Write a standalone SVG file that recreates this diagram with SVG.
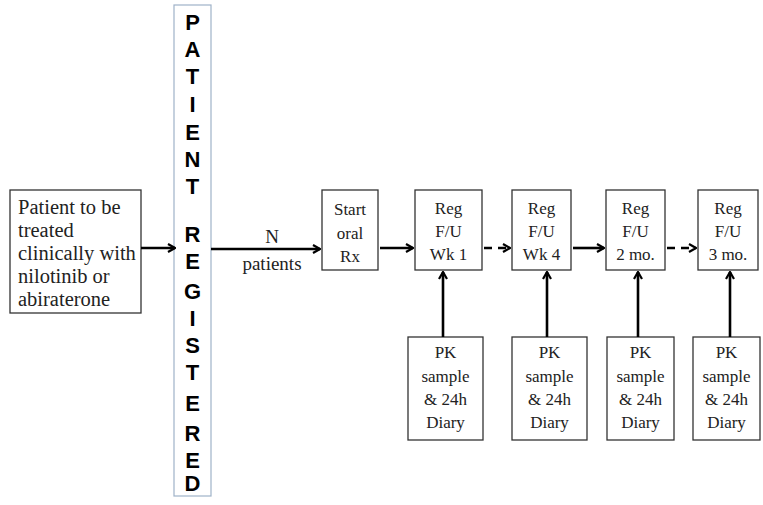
<svg xmlns="http://www.w3.org/2000/svg" width="763" height="505" viewBox="0 0 763 505">
<defs>
<marker id="ah" viewBox="0 0 10 10" refX="9" refY="5" markerWidth="10" markerHeight="10" markerUnits="userSpaceOnUse" orient="auto">
<path d="M2,1 L9,5 L2,9" fill="none" stroke="#000" stroke-width="2.2"/>
</marker>
<style>
.box{fill:#fff;stroke:#333;stroke-width:1.3}
.reg{fill:#fff;stroke:#9fb2c8;stroke-width:1.2}
.t{font-family:"Liberation Serif","Times New Roman",serif;font-size:17px;fill:#222;text-anchor:middle}
.tl{font-family:"Liberation Serif","Times New Roman",serif;font-size:20.5px;fill:#222}
.v{font-family:"Liberation Sans",Arial,sans-serif;font-weight:bold;font-size:22px;fill:#000;text-anchor:middle}
.c{stroke:#000;stroke-width:2.6;fill:none}
.d{stroke-dasharray:8 6}
</style>
</defs>
<rect width="763" height="505" fill="#fff"/>

<g id="n_patient">
<rect class="box" x="10" y="190" width="131" height="123"/>
<text class="tl" x="18" y="214">Patient  to be</text>
<text class="tl" x="18" y="237">treated</text>
<text class="tl" x="18" y="260">clinically with</text>
<text class="tl" x="18" y="283">nilotinib or</text>
<text class="tl" x="18" y="306">abiraterone</text>
</g>

<g id="n_registered">
<rect class="reg" x="174" y="5" width="37" height="491"/>
<text class="v" x="192.5" y="30">P</text>
<text class="v" x="192.5" y="57">A</text>
<text class="v" x="192.5" y="84">T</text>
<text class="v" x="192.5" y="112">I</text>
<text class="v" x="192.5" y="140">E</text>
<text class="v" x="192.5" y="167">N</text>
<text class="v" x="192.5" y="194">T</text>
<text class="v" x="192.5" y="242">R</text>
<text class="v" x="192.5" y="269">E</text>
<text class="v" x="192.5" y="299">G</text>
<text class="v" x="192.5" y="326">I</text>
<text class="v" x="192.5" y="353">S</text>
<text class="v" x="192.5" y="380">T</text>
<text class="v" x="192.5" y="411">E</text>
<text class="v" x="192.5" y="441">R</text>
<text class="v" x="192.5" y="468">E</text>
<text class="v" x="192.5" y="495" dy="-4">D</text>
</g>

<g id="n_start">
<rect class="box" x="322" y="190" width="56" height="80"/>
<text class="t" x="350" y="215">Start</text>
<text class="t" x="350" y="239">oral</text>
<text class="t" x="350" y="262">Rx</text>
</g>

<g id="n_wk1">
<rect class="box" x="415" y="190" width="67" height="80"/>
<text class="t" x="448.5" y="214">Reg</text>
<text class="t" x="448.5" y="237">F/U</text>
<text class="t" x="448.5" y="260">Wk 1</text>
</g>
<g id="n_wk4">
<rect class="box" x="512" y="190" width="59" height="80"/>
<text class="t" x="541.5" y="214">Reg</text>
<text class="t" x="541.5" y="237">F/U</text>
<text class="t" x="541.5" y="260">Wk 4</text>
</g>
<g id="n_2mo">
<rect class="box" x="606" y="190" width="59" height="80"/>
<text class="t" x="635.5" y="214">Reg</text>
<text class="t" x="635.5" y="237">F/U</text>
<text class="t" x="635.5" y="260">2 mo.</text>
</g>
<g id="n_3mo">
<rect class="box" x="698" y="190" width="60" height="80"/>
<text class="t" x="728" y="214">Reg</text>
<text class="t" x="728" y="237">F/U</text>
<text class="t" x="728" y="260">3 mo.</text>
</g>

<g id="n_pk1">
<rect class="box" x="408" y="337" width="75" height="103"/>
<text class="t" x="445.5" y="358">PK</text>
<text class="t" x="445.5" y="382">sample</text>
<text class="t" x="445.5" y="405">&amp; 24h</text>
<text class="t" x="445.5" y="428">Diary</text>
</g>
<g id="n_pk2">
<rect class="box" x="512" y="337" width="75" height="103"/>
<text class="t" x="549.5" y="358">PK</text>
<text class="t" x="549.5" y="382">sample</text>
<text class="t" x="549.5" y="405">&amp; 24h</text>
<text class="t" x="549.5" y="428">Diary</text>
</g>
<g id="n_pk3">
<rect class="box" x="607" y="337" width="67" height="103"/>
<text class="t" x="640.5" y="358">PK</text>
<text class="t" x="640.5" y="382">sample</text>
<text class="t" x="640.5" y="405">&amp; 24h</text>
<text class="t" x="640.5" y="428">Diary</text>
</g>
<g id="n_pk4">
<rect class="box" x="693" y="337" width="67" height="103"/>
<text class="t" x="726.5" y="358">PK</text>
<text class="t" x="726.5" y="382">sample</text>
<text class="t" x="726.5" y="405">&amp; 24h</text>
<text class="t" x="726.5" y="428">Diary</text>
</g>

<g id="connectors">
<line class="c" x1="141" y1="248" x2="175" y2="248" marker-end="url(#ah)"/>
<line class="c" x1="211" y1="249" x2="320" y2="249" marker-end="url(#ah)"/>
<text class="t" x="272" y="243" style="font-size:19px">N</text>
<text class="t" x="272" y="270" style="font-size:19px">patients</text>
<line class="c" x1="380" y1="248" x2="413" y2="248" marker-end="url(#ah)"/>
<line class="c d" x1="484" y1="248" x2="510" y2="248" marker-end="url(#ah)"/>
<line class="c" x1="573" y1="248" x2="604" y2="248" marker-end="url(#ah)"/>
<line class="c d" x1="667" y1="248" x2="696" y2="248" marker-end="url(#ah)"/>
<line class="c" x1="443" y1="337" x2="443" y2="272" marker-end="url(#ah)"/>
<line class="c" x1="547" y1="337" x2="547" y2="272" marker-end="url(#ah)"/>
<line class="c" x1="638" y1="337" x2="638" y2="272" marker-end="url(#ah)"/>
<line class="c" x1="730" y1="337" x2="730" y2="272" marker-end="url(#ah)"/>
</g>
</svg>
